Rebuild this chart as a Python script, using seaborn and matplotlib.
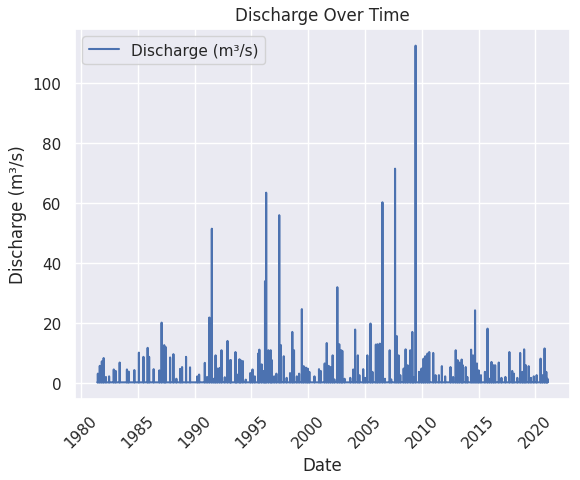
import pandas as pd
import numpy as np
import matplotlib
matplotlib.use("Agg")
import matplotlib.pyplot as plt
import matplotlib.dates as mdates
import seaborn as sns

sns.set_theme(style="darkgrid")

# record span and the low-flow level between events
start_date = "1981-06-12"
end_date = "2021-01-25"
base_flow = 0.3

# flow events: decimal year of the peak and peak discharge (m3/s)
peak_years = [
    1981.49, 1981.66, 1981.84, 1982.00, 1982.20, 1982.48, 1982.89, 1983.06,
    1983.41, 1984.05, 1984.20, 1984.70, 1985.10, 1985.50, 1985.87, 1986.00,
    1986.40, 1986.90, 1987.10, 1987.33, 1987.45, 1987.85, 1988.14, 1988.40,
    1988.73, 1988.90, 1989.25, 1989.60, 1990.24, 1990.40, 1990.90, 1991.10,
    1991.30, 1991.52, 1991.70, 1991.85, 1992.00, 1992.20, 1992.37, 1992.66,
    1992.90, 1993.13, 1993.20, 1993.60, 1993.70, 1993.95, 1994.05, 1994.25,
    1994.50, 1994.90, 1995.10, 1995.30, 1995.60, 1995.70, 1995.90, 1996.10,
    1996.20, 1996.30, 1996.50, 1996.70, 1996.80, 1997.00, 1997.20, 1997.45,
    1997.60, 1997.85, 1998.10, 1998.40, 1998.60, 1998.75, 1999.00, 1999.20,
    1999.44, 1999.60, 1999.80, 1999.95, 2000.10, 2000.55, 2000.95, 2001.10,
    2001.45, 2001.63, 2001.80, 2001.97, 2002.15, 2002.30, 2002.56, 2002.73,
    2002.90, 2003.00, 2003.20, 2003.70, 2003.96, 2004.13, 2004.37, 2004.50,
    2004.84, 2005.00, 2005.20, 2005.48, 2005.65, 2005.95, 2006.10, 2006.30,
    2006.53, 2006.75, 2007.17, 2007.30, 2007.64, 2007.80, 2007.95, 2008.10,
    2008.40, 2008.57, 2008.75, 2008.98, 2009.16, 2009.27, 2009.45, 2009.75,
    2009.97, 2010.15, 2010.30, 2010.50, 2010.65, 2011.00, 2011.20, 2011.50,
    2011.76, 2012.05, 2012.52, 2012.75, 2012.98, 2013.15, 2013.30, 2013.50,
    2013.60, 2013.86, 2014.00, 2014.33, 2014.50, 2014.68, 2014.85, 2015.00,
    2015.20, 2015.55, 2015.78, 2015.95, 2016.13, 2016.30, 2016.45, 2016.77,
    2017.00, 2017.35, 2017.70, 2017.95, 2018.10, 2018.40, 2018.65, 2018.85,
    2019.00, 2019.15, 2019.40, 2019.60, 2019.85, 2020.10, 2020.45, 2020.60,
    2020.80, 2020.95, 2021.05,
]
peak_q = [
    3.2, 5.8, 7.3, 8.4, 2.1, 2.3, 4.6, 4.1,
    6.9, 4.6, 3.9, 4.4, 10.2, 8.8, 11.8, 8.8,
    4.7, 4.3, 20.2, 12.7, 12.1, 8.6, 9.7, 1.5,
    4.8, 5.4, 8.8, 5.3, 2.3, 2.9, 6.8, 2.1,
    21.9, 51.5, 1.5, 9.3, 4.9, 5.1, 11.0, 2.0,
    14.1, 7.7, 7.7, 10.4, 3.0, 8.0, 7.7, 7.4,
    1.2, 3.4, 4.6, 2.3, 9.9, 11.2, 6.3, 4.1,
    34.0, 63.5, 11.0, 11.0, 7.7, 2.3, 3.2, 56.0,
    12.7, 9.0, 1.8, 3.4, 17.1, 11.0, 2.3, 3.2,
    24.7, 5.7, 5.2, 4.9, 3.8, 2.3, 4.7, 4.1,
    6.6, 13.4, 5.8, 5.4, 9.3, 1.3, 32.0, 13.0,
    11.0, 10.8, 1.5, 1.8, 4.6, 17.9, 9.3, 2.7,
    4.7, 1.8, 9.3, 19.9, 3.8, 12.9, 13.0, 13.2,
    60.3, 1.5, 11.0, 1.3, 71.5, 15.7, 9.3, 2.7,
    4.9, 11.3, 6.0, 11.0, 17.1, 2.1, 112.5, 3.8,
    4.9, 8.2, 9.0, 9.9, 10.4, 10.1, 2.7, 2.7,
    5.7, 2.3, 5.4, 2.1, 11.0, 7.7, 6.9, 7.9,
    6.0, 5.4, 2.1, 11.2, 9.3, 24.3, 6.6, 4.3,
    2.7, 3.8, 18.2, 1.5, 7.1, 6.0, 6.0, 6.9,
    1.8, 2.1, 10.4, 4.1, 3.2, 1.8, 10.1, 3.8,
    11.3, 6.0, 5.7, 1.8, 2.3, 2.7, 8.2, 2.7,
    11.6, 3.8, 1.5,
]

# daily record: low flow everywhere, event peaks on their days
days = pd.date_range(start_date, end_date, freq="D")
flow = pd.Series(base_flow, index=days)
for yr, q in zip(peak_years, peak_q):
    day = pd.Timestamp(int(yr), 1, 1) + pd.to_timedelta((yr - int(yr)) * 365.25, unit="D")
    flow.iloc[flow.index.get_indexer([day], method="nearest")[0]] = q

df = pd.DataFrame({"Date": flow.index, "Discharge": flow.values})

fig, ax = plt.subplots(figsize=(5.8, 4.81), dpi=100)
sns.lineplot(data=df, x="Date", y="Discharge", ax=ax, estimator=None,
             label="Discharge (m³/s)")
ax.xaxis.set_major_locator(mdates.YearLocator(5))
ax.xaxis.set_major_formatter(mdates.DateFormatter("%Y"))
plt.setp(ax.get_xticklabels(), rotation=45)
ax.set_title("Discharge Over Time")
ax.set_xlabel("Date")
ax.set_ylabel("Discharge (m³/s)")
ax.legend(loc="upper left")
fig.subplots_adjust(left=0.129, right=0.983, bottom=0.168, top=0.938)
fig.savefig("out.png", dpi=100)
